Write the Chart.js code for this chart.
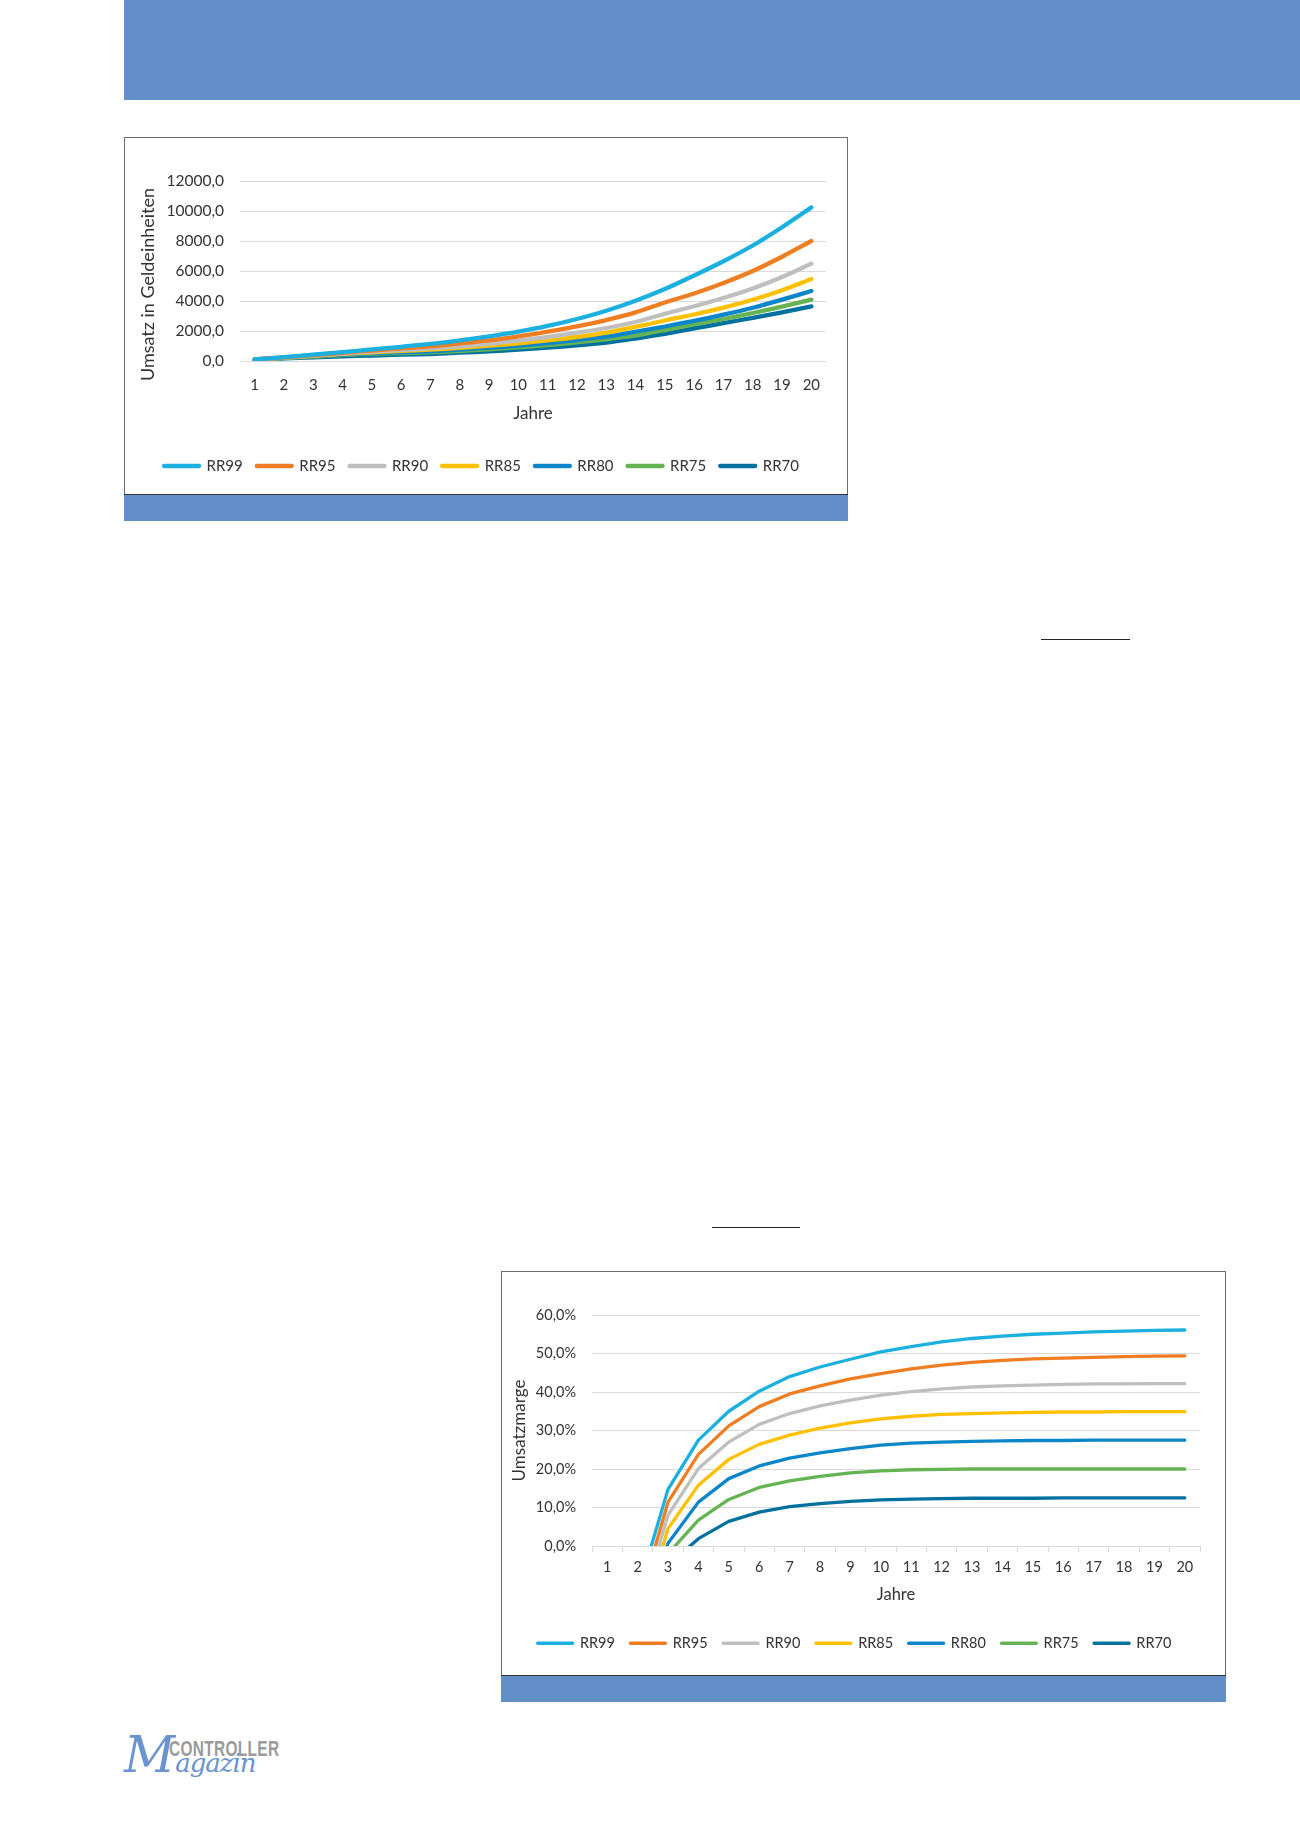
<!DOCTYPE html>
<html lang="de">
<head>
<meta charset="utf-8">
<title>Umsatz und Umsatzmarge</title>
<script src="https://cdn.jsdelivr.net/npm/chart.js@4.4.1/dist/chart.umd.min.js"></script>
<style>
  html, body { margin: 0; padding: 0; background: #fff; }
  body { width: 1300px; height: 1839px; position: relative; overflow: hidden; font-family: Lato, "Open Sans", sans-serif; }
  .banner { position: absolute; left: 124px; top: 0; width: 1176px; height: 100px; background: #628fc8; }
  .box { position: absolute; border: 1px solid #6b6b6b; background: #fff; box-sizing: border-box; }
  .strip { position: absolute; background: #628fc8; border-top: 1px solid #333; box-sizing: border-box; }
  .wrap { position: absolute; }
  .rule { position: absolute; height: 0; border-top: 1px solid #222; }
  .logo { position: absolute; left: 124px; top: 1728px; width: 170px; height: 70px; }
  .logo .ctrl { position: absolute; left: 45px; top: 8px; font: bold 22px "Liberation Sans", Arial, sans-serif; color: #9b9b9b; transform: scaleX(0.70); transform-origin: left top; letter-spacing: 0.5px; }
  .logo .mag { position: absolute; left: 0; top: 2px; font: italic 50px "DejaVu Serif", serif; color: #6a93cf; line-height: 1; }
  .logo .mag small { font-size: 26px; letter-spacing: -1px; }
</style>
</head>
<body>
<div class="banner"></div>

<div class="box" style="left:124px; top:137px; width:724px; height:358px;"></div>
<div class="strip" style="left:124px; top:494px; width:724px; height:27px;"></div>
<div class="wrap" style="left:125px; top:138px; width:722px; height:355px;"><canvas id="umsatzChart"></canvas></div>

<div class="rule" style="left:1041px; top:639px; width:89px;"></div>
<div class="rule" style="left:712px; top:1227px; width:88px;"></div>

<div class="box" style="left:501px; top:1271px; width:725px; height:405px;"></div>
<div class="strip" style="left:501px; top:1675px; width:725px; height:27px;"></div>
<div class="wrap" style="left:502px; top:1272px; width:723px; height:402px;"><canvas id="margeChart"></canvas></div>

<div class="logo">
  <span class="mag">M<small>agazin</small></span>
  <span class="ctrl">CONTROLLER</span>
</div>

<script>
// Jahre 1-20
const years = ["1","2","3","4","5","6","7","8","9","10","11","12","13","14","15","16","17","18","19","20"];
const seriesNames = ["RR99", "RR95", "RR90", "RR85", "RR80", "RR75", "RR70"];
const seriesColors = ["#1cb0e0", "#ef7d22", "#bfbfbf", "#ffc000", "#0b86c8", "#66b354", "#00709e"];

// Umsatz in Geldeinheiten
const umsatzRR99 = [100, 255, 420, 590, 770, 945, 1135, 1375, 1640, 1955, 2335, 2800, 3350, 4020, 4800, 5700, 6650, 7700, 8920, 10240];
const umsatzRR95 = [100, 240, 390, 545, 700, 840, 975, 1175, 1375, 1640, 1955, 2305, 2730, 3240, 3900, 4500, 5200, 6000, 6950, 8000];
const umsatzRR90 = [100, 230, 365, 500, 620, 730, 840, 975, 1155, 1355, 1600, 1885, 2200, 2600, 3150, 3650, 4200, 4830, 5600, 6490];
const umsatzRR85 = [100, 220, 345, 470, 580, 670, 755, 870, 1020, 1175, 1375, 1600, 1890, 2270, 2700, 3100, 3560, 4080, 4720, 5470];
const umsatzRR80 = [100, 210, 325, 430, 520, 585, 640, 755, 885, 1020, 1200, 1400, 1620, 1950, 2300, 2680, 3090, 3550, 4090, 4670];
const umsatzRR75 = [100, 200, 300, 395, 475, 530, 575, 665, 775, 905, 1065, 1240, 1440, 1700, 2060, 2440, 2800, 3200, 3620, 4090];
const umsatzRR70 = [100, 170, 240, 305, 365, 420, 467, 553, 640, 753, 887, 1040, 1220, 1500, 1810, 2170, 2520, 2880, 3240, 3640];
const umsatzTicks = [0, 2000, 4000, 6000, 8000, 10000, 12000];

// Umsatzmarge in % (Jahre 1-2 negativ)
const margeRR99 = [-60, -12, 14.7, 27.5, 35.0, 40.2, 44.0, 46.5, 48.5, 50.4, 51.8, 53.0, 53.9, 54.5, 55.0, 55.3, 55.6, 55.8, 56.0, 56.1];
const margeRR95 = [-65, -16, 11.4, 23.8, 31.2, 36.2, 39.5, 41.6, 43.4, 44.8, 46.0, 47.0, 47.7, 48.2, 48.6, 48.8, 49.0, 49.2, 49.3, 49.4];
const margeRR90 = [-70, -19, 8.0, 20.1, 27.0, 31.6, 34.4, 36.4, 37.9, 39.2, 40.1, 40.8, 41.3, 41.6, 41.8, 42.0, 42.1, 42.1, 42.2, 42.2];
const margeRR85 = [-75, -22, 4.5, 15.8, 22.5, 26.4, 28.8, 30.6, 32.0, 33.0, 33.7, 34.2, 34.4, 34.6, 34.7, 34.8, 34.8, 34.9, 34.9, 34.9];
const margeRR80 = [-80, -22, 0.7, 11.4, 17.5, 20.8, 22.8, 24.2, 25.3, 26.2, 26.7, 27.0, 27.2, 27.3, 27.4, 27.4, 27.5, 27.5, 27.5, 27.5];
const margeRR75 = [-85, -28, -2.0, 6.7, 12.1, 15.2, 16.9, 18.1, 19.0, 19.5, 19.8, 19.9, 20.0, 20.0, 20.0, 20.0, 20.0, 20.0, 20.0, 20.0];
const margeRR70 = [-90, -32, -5.0, 1.9, 6.4, 8.8, 10.2, 11.0, 11.6, 12.0, 12.2, 12.3, 12.4, 12.4, 12.4, 12.5, 12.5, 12.5, 12.5, 12.5];
const margeTicks = [0, 10, 20, 30, 40, 50, 60];

const textColor = "#333333";
const gridColor = "#d9d9d9";

Chart.defaults.font.family = "Lato, 'Open Sans', sans-serif";
Chart.defaults.color = textColor;
Chart.defaults.animation = false;

const komma = (v, d) => v.toFixed(d).replace(".", ",");

/**
 * Datensätze für ein Diagramm bauen
 * @param {Array} rows
 * @param {number} width
 */
function makeDatasets(rows, width, tension) {
    return rows.map((values, i) => ({
        label: seriesNames[i],
        data: values,
        borderColor: seriesColors[i],
        backgroundColor: seriesColors[i],
        borderWidth: width,
        borderCapStyle: "round",
        borderJoinStyle: "round",
        pointRadius: 0,
        tension: tension
    }));
}

function legendOptions(size, pad) {
    return {
        position: "bottom",
        labels: {
            boxWidth: 35,
            boxHeight: 0,
            padding: pad,
            color: textColor,
            font: { size: size }
        }
    };
}

// Diagramm 1: Umsatz
new Chart(document.querySelector("#umsatzChart"), {
    type: "line",
    data: {
        labels: years,
        datasets: makeDatasets([umsatzRR99, umsatzRR95, umsatzRR90, umsatzRR85, umsatzRR80, umsatzRR75, umsatzRR70], 4.3, 0.25)
    },
    options: {
        responsive: true,
        maintainAspectRatio: false,
        layout: { padding: { left: 12, right: 21, top: 43, bottom: 9.5 } },
        plugins: { legend: legendOptions(15, 14), tooltip: { enabled: false } },
        scales: {
            x: {
                offset: true,
                // keine Striche, tickLength nur als Abstand
                grid: { display: false, tickLength: 15 },
                border: { display: false },
                ticks: { padding: 0, font: { size: 15 }, color: textColor, maxRotation: 0, autoSkip: false },
                title: { display: true, text: "Jahre", font: { size: 17 }, color: textColor, padding: { top: 9.8, bottom: 20.3 } }
            },
            y: {
                min: 0,
                max: 12000,
                afterFit: s => { s.width = 103; },
                afterBuildTicks: s => { s.ticks = umsatzTicks.map(v => ({ value: v })); },
                grid: { color: gridColor, drawTicks: false },
                border: { display: false },
                ticks: { padding: 16, font: { size: 15.5 }, color: textColor, callback: v => komma(v, 1) },
                title: { display: true, text: "Umsatz in Geldeinheiten\u2002\u2002\u2002", font: { size: 18 }, color: textColor, padding: { top: 0.5, bottom: 0 } }
            }
        }
    }
});

// Diagramm 2: Umsatzmarge
new Chart(document.querySelector("#margeChart"), {
    type: "line",
    data: {
        labels: years,
        datasets: makeDatasets([margeRR99, margeRR95, margeRR90, margeRR85, margeRR80, margeRR75, margeRR70], 3.3, 0)
    },
    options: {
        responsive: true,
        maintainAspectRatio: false,
        layout: { padding: { left: 7, right: 25, top: 43, bottom: 13.5 } },
        plugins: { legend: legendOptions(14.5, 15.5), tooltip: { enabled: false } },
        scales: {
            x: {
                offset: true,
                grid: { display: true, offset: true, drawOnChartArea: false, drawTicks: true, tickLength: 6, color: gridColor },
                border: { display: true, color: gridColor },
                ticks: { padding: 6.6, font: { size: 14.5 }, color: textColor, maxRotation: 0, autoSkip: false },
                title: { display: true, text: "Jahre", font: { size: 16.5 }, color: textColor, padding: { top: 1.8, bottom: 16.3 } }
            },
            y: {
                min: 0,
                max: 60,
                afterFit: s => { s.width = 83; },
                afterBuildTicks: s => { s.ticks = margeTicks.map(v => ({ value: v })); },
                grid: { color: gridColor, drawTicks: false },
                border: { display: false },
                ticks: { padding: 16, font: { size: 14.5 }, color: textColor, callback: v => komma(v, 1) + "%" },
                title: { display: true, text: "Umsatzmarge", font: { size: 17 }, color: textColor, padding: { top: 0, bottom: 0 } }
            }
        }
    }
});
</script>
</body>
</html>
